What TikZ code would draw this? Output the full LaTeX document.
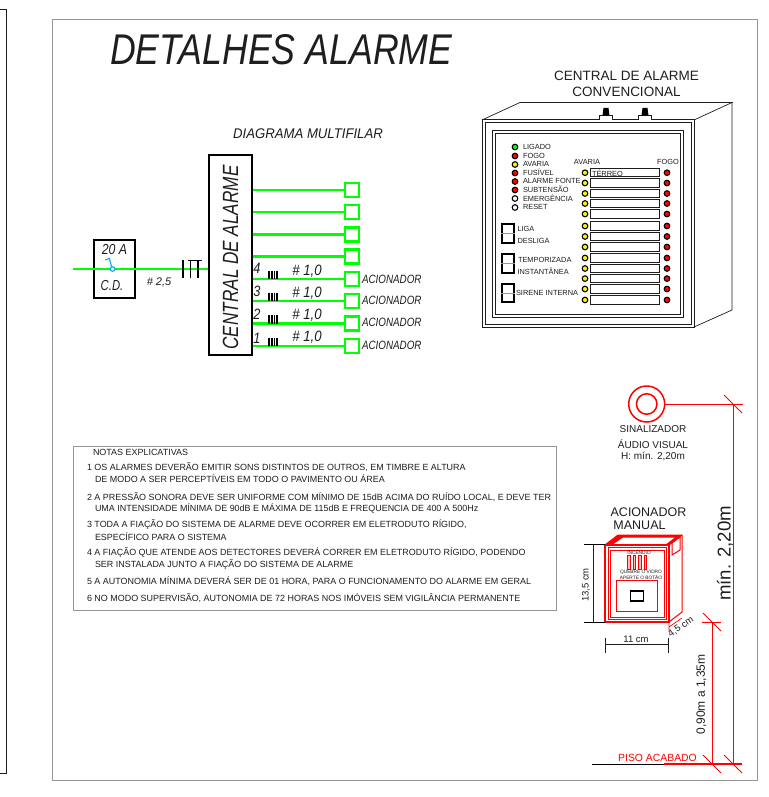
\documentclass[tikz,border=0pt]{standalone}
\usepackage{fontspec}
\setmainfont{Liberation Sans}
\newcommand{\fs}[1]{\fontsize{#1}{#1}\selectfont}
\newcommand{\noteline}[3]{\node[txt,anchor=west,font=\fs{8.95}] at (#1,#2) {#3};}
\newcommand{\narrow}[2]{\scalebox{#1}[1]{#2}}
\definecolor{wgreen}{RGB}{0,255,0}
\definecolor{ink}{RGB}{30,30,30}
\definecolor{frameg}{RGB}{150,150,150}
\tikzset{
  txt/.style={inner sep=0pt,outer sep=0pt,text=ink},
  wire/.style={wgreen,line width=2.2pt},
  gsq/.style={draw=wgreen,line width=2.8pt,minimum size=14pt,inner sep=0pt,fill=white},
  blk/.style={draw=black,line width=1.2pt,inner sep=0pt,fill=white},
  pn/.style={draw=ink,line width=0.7pt},
  rl/.style={red,line width=1pt},
  led/.style={circle,draw=black,line width=1.1pt,minimum size=5.6pt,inner sep=0pt},
  slot/.style={draw=ink,line width=0.9pt,minimum width=69.5pt,minimum height=8.4pt,inner sep=0pt},
  sw/.style={draw=black,line width=1.8pt,minimum width=11.5pt,inner sep=0pt,fill=white},
}
\begin{document}
\begin{tikzpicture}[x=1pt,y=-1pt]
\useasboundingbox (0,0) rectangle (768,797);
\fill[white] (0,0) rectangle (768,797);
% sheet frames
\draw[ink,line width=0.8pt] (0,9) -- (6.5,9) -- (6.5,773) -- (0,773);
\draw[frameg,line width=1pt] (52,20) rectangle (757,780);
\node[txt,anchor=west,font=\itshape\fs{43}] (title) at (110,50) {\narrow{0.83}{DETALHES ALARME}};
% multifilar
\node[txt,font=\itshape\fs{14}] (mf) at (308,134) {\narrow{0.94}{DIAGRAMA MULTIFILAR}};
\node[draw=black,line width=1.2pt,minimum width=43pt,minimum height=200pt,inner sep=0pt,fill=white] (central) at (230.5,255) {};
\node[txt,rotate=90,font=\itshape\fs{22}] (centraltxt) at (230.5,257.5) {\narrow{0.78}{CENTRAL DE ALARME}};
\foreach \n/\y in {1/190,2/212,3/234.5,4/256.5,5/279,6/301,7/323.5,8/346}{
  \node[gsq] (sq\n) at (352,\y) {};
  \draw[wire] (central.east |- sq\n.west) -- (sq\n.west);
}
\foreach \n/\lab/\yn/\yh/\ya/\yr in {5/4/268/271/279/279,6/3/291/293/300.3/301,7/2/314/315/322.7/323.5,8/1/338/337/345.3/346}{
  \node[txt,font=\itshape\fs{15}] (num\n) at (257,\yn) {\narrow{0.85}{\lab}};
  \node[txt,font=\itshape\fs{15}] (gauge\n) at (307,\yh) {\narrow{0.88}{\# 1,0}};
  \node[txt,anchor=west,font=\itshape\fs{12}] (ac\n) at (362,\ya) {\narrow{0.82}{ACIONADOR}};
  \foreach \dx in {269,271.7,274.4,277.1}{
    \draw[black,line width=1.8pt] (\dx,{\yr-8.5}) -- (\dx,\yr);
  }
}
% breaker
\node[blk,minimum width=41pt,minimum height=58pt] (cd) at (114.5,269) {};
\coordinate (feed) at (73,269);
\draw[wire] (feed) -- (central.west |- feed);
\node[txt,font=\itshape\fs{14.5}] (a20) at (114.5,249.5) {\narrow{0.85}{20 A}};
\node[txt,font=\itshape\fs{14.5}] (cdt) at (112,286) {\narrow{0.78}{C.D.}};
\node[txt,font=\itshape\fs{11}] (g25) at (159,282) {\# 2,5};
\draw[cyan,line width=1.1pt] (105.3,260) -- (109.3,258.3) -- (111.6,266.7);
\draw[cyan,line width=1.1pt,fill=white] (112.5,269) circle (2.3);
\draw[black,line width=1.2pt] (183,260) -- (183,278) (190.5,260.8) -- (190.5,278) (198,260.8) -- (198,278) (188,260.8) -- (202,260.8);
% panel
\node[txt,font=\fs{13.5}] (pt1) at (626.5,76) {CENTRAL DE ALARME};
\node[txt,font=\fs{13.5}] (pt2) at (626.5,92) {CONVENCIONAL};
\draw[pn] (482,120) -- (520,102.5) -- (732,102.5) -- (694,120);
\draw[pn] (732,102.5) -- (732,310) -- (694,327);
\draw[pn,line width=1pt] (482,120) rectangle (694,327);
\draw[pn] (485,122.5) rectangle (691,324);
\draw[pn,line width=1pt] (492,130) rectangle (683,317);
\draw[pn] (495,133) rectangle (680.5,314);
\foreach \bx in {606,645}{
  \draw[pn,fill=white] (\bx-6.5,120) -- (\bx-6.5,115.5) -- (\bx+6.5,115.5) -- (\bx+6.5,120);
  \fill[black] (\bx-3.5,115.5) -- (\bx-2.5,108) -- (\bx+2.5,108) -- (\bx+3.5,115.5) -- cycle;
}
\foreach \n/\y/\c/\t in {1/147/wgreen/LIGADO,2/156/red/FOGO,3/164.5/yellow/AVARIA,4/173/red/FUSÍVEL,5/181.5/red/ALARME FONTE,6/190/red/SUBTENSÃO,7/198.5/white/EMERGÊNCIA,8/207.5/white/RESET}{
  \node[led,fill=\c] (ll\n) at (515,\y) {};
  \node[txt,anchor=west,font=\fs{7.4}] (lt\n) at (523,{\y-0.5}) {\t};
}
\node[txt,font=\fs{7.4}] (hav) at (587,162) {AVARIA};
\node[txt,font=\fs{7.4}] (hfo) at (668,162) {FOGO};
\foreach \n/\y in {1/172.7,2/183,3/193.5,4/203.5,5/214,6/226,7/236.5,8/247,9/258,10/268.5,11/278.6,12/289,13/300}{
  \node[led,fill=yellow] (ya\n) at (585,\y) {};
  \node[slot] (sl\n) at (624.7,\y) {};
  \node[led,fill=red] (rf\n) at (667,\y) {};
}
\node[txt,anchor=west,font=\fs{7.4}] (terreo) at (592,172.9) {TÉRREO};
\draw[ink,line width=0.5pt] (591,176.6) -- (622,176.6);
\foreach \n/\yc/\h in {1/233.5/19,2/263.5/19,3/293/18.5}{
  \node[sw,minimum height=\h pt] (sw\n) at (508,\yc) {};
  \draw[wgreen,line width=1pt] (sw\n.west) -- (sw\n.east);
}
\node[txt,anchor=west,font=\fs{7.4}] (s1a) at (517.5,229) {LIGA};
\node[txt,anchor=west,font=\fs{7.4}] (s1b) at (517.5,240.5) {DESLIGA};
\node[txt,anchor=west,font=\fs{7.4}] (s2a) at (518,259.5) {TEMPORIZADA};
\node[txt,anchor=west,font=\fs{7.4}] (s2b) at (517.5,271.5) {INSTANTÂNEA};
\node[txt,anchor=west,font=\fs{7.4}] (s3a) at (516,293) {SIRENE INTERNA};
% notes
\node[draw=frameg,line width=0.9pt,minimum width=483pt,minimum height=164pt,inner sep=0pt] (notes) at (314.5,528) {};
\noteline{93}{452}{NOTAS EXPLICATIVAS}
\noteline{87}{467.5}{1 OS ALARMES DEVERÃO EMITIR SONS DISTINTOS DE OUTROS, EM TIMBRE E ALTURA}
\noteline{95}{479}{DE MODO A SER PERCEPTÍVEIS EM TODO O PAVIMENTO OU ÁREA}
\noteline{87}{497}{2 A PRESSÃO SONORA DEVE SER UNIFORME COM MÍNIMO DE 15dB ACIMA DO RUÍDO LOCAL, E DEVE TER}
\noteline{95}{508}{UMA INTENSIDADE MÍNIMA DE 90dB E MÁXIMA DE 115dB E FREQUENCIA DE 400 A 500Hz}
\noteline{87}{525}{3 TODA A FIAÇÃO DO SISTEMA DE ALARME DEVE OCORRER EM ELETRODUTO RÍGIDO,}
\noteline{95}{537}{ESPECÍFICO PARA O SISTEMA}
\noteline{87}{553}{4 A FIAÇÃO QUE ATENDE AOS DETECTORES DEVERÁ CORRER EM ELETRODUTO RÍGIDO, PODENDO}
\noteline{95}{565}{SER INSTALADA JUNTO A FIAÇÃO DO SISTEMA DE ALARME}
\noteline{87}{581}{5 A AUTONOMIA MÍNIMA DEVERÁ SER DE 01 HORA, PARA O FUNCIONAMENTO DO ALARME EM GERAL}
\noteline{87}{598}{6 NO MODO SUPERVISÃO, AUTONOMIA DE 72 HORAS NOS IMÓVEIS SEM VIGILÂNCIA PERMANENTE}
% siren
\node[circle,draw=red,line width=1.5pt,minimum size=36pt,inner sep=0pt] (sirO) at (646.7,404) {};
\node[circle,draw=red,line width=1.5pt,minimum size=20.5pt,inner sep=0pt] (sirI) at (646.7,404) {};
\node[txt,font=\fs{10}] at (653,429) {SINALIZADOR};
\node[txt,font=\fs{10}] at (653,444) {ÁUDIO VISUAL};
\node[txt,font=\fs{10}] at (653,456) {H: mín. 2,20m};
\coordinate (d1top) at (733,404);
\coordinate (d1bot) at (733,764);
\coordinate (d2top) at (712,622);
\coordinate (d2bot) at (712,764);
\draw[rl] (sirO.east) -- (743,404);
\draw[rl] (d1top) -- (d1bot);
\draw[rl] (d2top) -- (d2bot);
\draw[rl] (702,622) -- (721,622);
\foreach \c in {d1top,d1bot,d2top,d2bot}{
  \draw[rl] ([shift={(-9,-9)}]\c) -- ([shift={(9,9)}]\c);
}
\draw[black,line width=0.8pt] (592,764) -- (664,764);
\draw[red,line width=1.2pt] (664,764) -- (742,764);
\node[txt,text=red,font=\fs{10.4}] at (657.5,758) {PISO ACABADO};
\node[txt,rotate=90,font=\fs{18.6}] at (725,553.5) {mín. 2,20m};
\node[txt,rotate=90,font=\fs{12}] at (701.5,694.5) {0,90m a 1,35m};
% manual call point
\node[txt,font=\fs{12.5}] at (648.5,512) {ACIONADOR};
\node[txt,font=\fs{12.5}] at (639.5,525) {MANUAL};
\begin{scope}[red,line width=1pt]
  \draw[fill=white] (605,545) -- (618,535) -- (682,535) -- (682,612) -- (669,622) -- cycle;
  \fill (605,545) -- (618,535) -- (682,535) -- (669,545) -- (665,545) -- (675,537.5) -- (623,537.5) -- (612,545) -- cycle;
  \draw (669,545) -- (682,535);
  \draw[line width=1.4pt,fill=white] (605,545) rectangle (669,622);
  \draw (608,547.5) rectangle (666,619.5);
  \draw (610.5,550) rectangle (664,617);
  \draw[fill=white] (672,543) -- (680,537) -- (680,550) -- (672,555) -- cycle;
  \foreach \bx in {627.3,632.9,638.4,644}{ \draw[fill=red!25,line width=0.8pt] (\bx,555.5) rectangle (\bx+2.7,569.5); }
  \draw (616,580) rectangle (657.5,611);
  \draw[line width=0.7pt] (669,622) -- (669,632) (669,627) -- (682,618);
\end{scope}
\node[txt,font=\fs{4.8}] at (639,552) {INCÊNDIO};
\node[txt,font=\fs{4.8}] at (641,572.3) {QUEBRE O VIDRO};
\node[txt,font=\fs{4.8}] at (641,577) {APERTE O BOTÃO};
\node[draw=black,line width=1.6pt,minimum width=13pt,minimum height=9.5pt,inner sep=0pt] (btn) at (637,596) {};
\draw[ink,line width=1pt] (593,544) -- (593,622);
\draw[black,line width=0.9pt] (584,544) -- (605,544) (584,622) -- (605,622);
\node[txt,rotate=90,font=\fs{9.5}] at (586,585) {13,5 cm};
\draw[ink,line width=1pt] (605,644) -- (668,644);
\draw[ink,line width=0.9pt] (605,638) -- (605,653) (668,638) -- (668,653);
\node[txt,font=\fs{9.5}] at (636,639) {11 cm};
\node[txt,rotate=34,font=\fs{9.5}] at (681,627) {4,5 cm};
\end{tikzpicture}
\end{document}
